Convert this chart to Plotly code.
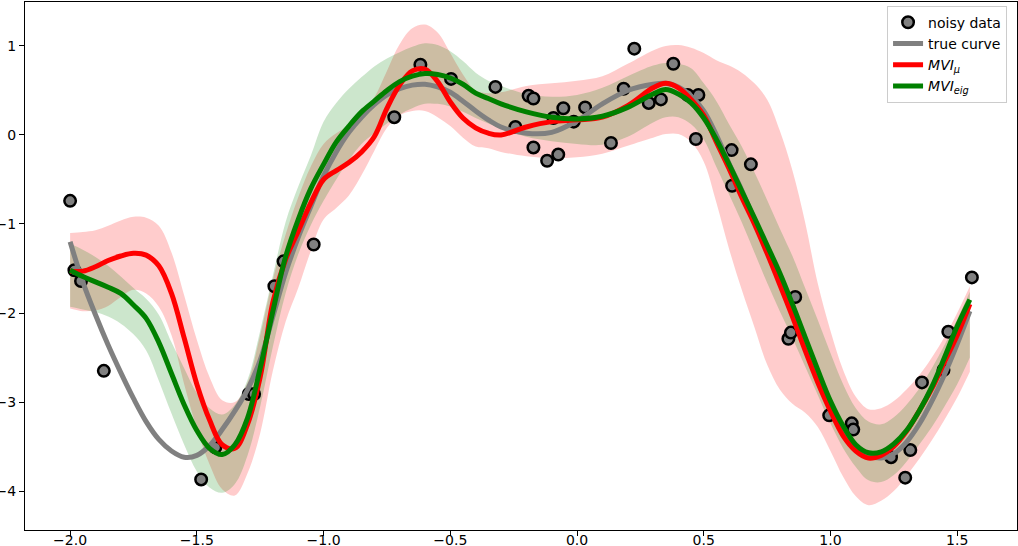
import plotly.graph_objects as go

# noisy observations
pts_x = [-2.0, -1.983, -1.957, -1.867, -1.483, -1.427, -1.295, -1.274, -1.194, -1.158,
         -1.039, -0.721, -0.618, -0.497, -0.322, -0.243, -0.191, -0.172, -0.172, -0.118,
         -0.093, -0.074, -0.054, -0.013, 0.032, 0.134, 0.184, 0.226, 0.283, 0.331,
         0.380, 0.437, 0.469, 0.479, 0.61, 0.612, 0.686, 0.834, 0.844, 0.861,
         0.995, 1.084, 1.090, 1.239, 1.295, 1.315, 1.361, 1.446, 1.465, 1.558]
pts_y = [-0.74, -1.52, -1.64, -2.65, -3.87, -3.51, -2.91, -2.91, -1.70, -1.42,
         -1.23, 0.20, 0.79, 0.63, 0.54, 0.09, 0.44, 0.41, -0.14, -0.29,
         0.19, -0.22, 0.30, 0.15, 0.31, -0.09, 0.52, 0.97, 0.36, 0.40,
         0.80, 0.45, -0.045, 0.45, -0.17, -0.57, -0.33, -2.29, -2.22, -1.82,
         -3.15, -3.24, -3.31, -3.62, -3.85, -3.54, -2.78, -2.64, -2.21, -1.60]

# evaluation grid
xs = [-2.0, -1.95, -1.9, -1.85, -1.8, -1.75, -1.7, -1.65, -1.6, -1.55, -1.5, -1.45,
      -1.4, -1.35, -1.3, -1.25, -1.2, -1.15, -1.1, -1.05, -1.0, -0.95, -0.9, -0.85,
      -0.8, -0.75, -0.7, -0.65, -0.6, -0.55, -0.5, -0.45, -0.4, -0.35, -0.3, -0.2,
      -0.1, 0.0, 0.1, 0.2, 0.3, 0.35, 0.4, 0.45, 0.5, 0.55, 0.6, 0.65,
      0.7, 0.75, 0.8, 0.85, 0.9, 0.95, 1.0, 1.05, 1.1, 1.15, 1.2, 1.25,
      1.3, 1.35, 1.4, 1.45, 1.5, 1.55]

true_y = [-1.20, -1.65, -2.02, -2.36, -2.67, -2.96, -3.22, -3.42, -3.55, -3.62, -3.60, -3.49,
          -3.31, -3.10, -2.86, -2.53, -2.04, -1.55, -1.15, -0.80, -0.46, -0.19, 0.03, 0.20,
          0.34, 0.45, 0.52, 0.56, 0.57, 0.54, 0.48, 0.38, 0.27, 0.17, 0.09, 0.02,
          0.03, 0.16, 0.35, 0.50, 0.57, 0.58, 0.54, 0.44, 0.27, 0.00, -0.32, -0.62,
          -0.95, -1.28, -1.62, -1.97, -2.33, -2.68, -3.02, -3.30, -3.50, -3.60, -3.63, -3.58,
          -3.45, -3.25, -2.99, -2.69, -2.35, -1.98]

mu_y = [-1.53, -1.53, -1.48, -1.41, -1.36, -1.33, -1.35, -1.47, -1.78, -2.28, -2.80, -3.20,
        -3.48, -3.52, -3.25, -2.72, -1.88, -1.40, -1.08, -0.76, -0.50, -0.40, -0.31, -0.19,
        -0.02, 0.30, 0.56, 0.72, 0.74, 0.60, 0.37, 0.19, 0.08, 0.02, 0.00, 0.09,
        0.15, 0.17, 0.20, 0.33, 0.53, 0.58, 0.53, 0.40, 0.22, -0.08, -0.38, -0.70,
        -1.00, -1.33, -1.68, -2.04, -2.42, -2.78, -3.10, -3.38, -3.55, -3.63, -3.60, -3.50,
        -3.33, -3.10, -2.85, -2.55, -2.25, -1.90]
mu_up = [-1.10, -1.09, -1.07, -1.02, -0.96, -0.92, -0.93, -1.02, -1.32, -1.80, -2.30, -2.72,
         -2.98, -3.00, -2.78, -2.25, -1.62, -1.12, -0.70, -0.35, -0.10, 0.02, 0.11, 0.23,
         0.42, 0.72, 1.02, 1.20, 1.24, 1.15, 0.92, 0.68, 0.50, 0.47, 0.48, 0.55,
         0.58, 0.61, 0.66, 0.80, 0.95, 1.00, 1.01, 0.98, 0.92, 0.84, 0.78, 0.70,
         0.58, 0.40, 0.05, -0.40, -0.98, -1.67, -2.20, -2.64, -2.94, -3.08, -3.07, -2.99,
         -2.86, -2.70, -2.50, -2.27, -2.00, -1.70]
mu_lo = [-1.95, -1.98, -1.97, -1.92, -1.82, -1.74, -1.78, -1.93, -2.25, -2.80, -3.30, -3.70,
         -3.98, -4.05, -3.80, -3.35, -2.65, -2.10, -1.72, -1.30, -0.95, -0.82, -0.68, -0.45,
         -0.18, 0.08, 0.22, 0.27, 0.27, 0.20, 0.10, -0.03, -0.13, -0.15, -0.19, -0.24,
         -0.26, -0.25, -0.21, -0.12, -0.03, 0.01, 0.01, -0.08, -0.30, -0.76, -1.28, -1.74,
         -2.16, -2.58, -2.86, -3.02, -3.12, -3.28, -3.55, -3.84, -4.06, -4.16, -4.11, -4.00,
         -3.83, -3.64, -3.43, -3.20, -2.95, -2.66]

eig_y = [-1.52, -1.59, -1.65, -1.71, -1.78, -1.91, -2.06, -2.33, -2.68, -3.03, -3.32, -3.52,
         -3.59, -3.48, -3.18, -2.62, -1.98, -1.37, -0.95, -0.60, -0.33, -0.08, 0.10, 0.26,
         0.38, 0.50, 0.60, 0.66, 0.69, 0.68, 0.64, 0.57, 0.47, 0.41, 0.35, 0.26,
         0.20, 0.18, 0.21, 0.31, 0.46, 0.51, 0.46, 0.36, 0.19, -0.05, -0.33, -0.63,
         -0.93, -1.24, -1.55, -1.90, -2.27, -2.64, -2.99, -3.27, -3.48, -3.57, -3.56, -3.47,
         -3.32, -3.10, -2.83, -2.50, -2.15, -1.85]
eig_up = [-1.22, -1.29, -1.37, -1.47, -1.59, -1.72, -1.84, -2.02, -2.33, -2.62, -2.90, -3.07,
          -3.14, -3.03, -2.75, -2.20, -1.58, -0.98, -0.58, -0.23, 0.15, 0.36, 0.52, 0.65,
          0.77, 0.86, 0.93, 0.99, 1.03, 1.01, 0.94, 0.83, 0.70, 0.61, 0.55, 0.46,
          0.43, 0.45, 0.53, 0.66, 0.78, 0.81, 0.80, 0.75, 0.58, 0.38, 0.12, -0.13,
          -0.42, -0.73, -1.05, -1.36, -1.72, -2.08, -2.45, -2.80, -3.07, -3.22, -3.25, -3.17,
          -3.03, -2.85, -2.62, -2.36, -2.07, -1.76]
eig_lo = [-1.93, -1.96, -1.99, -2.04, -2.12, -2.24, -2.42, -2.76, -3.13, -3.48, -3.78, -3.96,
          -4.02, -3.92, -3.60, -3.05, -2.38, -1.78, -1.34, -1.01, -0.74, -0.50, -0.28, -0.10,
          0.02, 0.13, 0.23, 0.30, 0.35, 0.35, 0.32, 0.26, 0.19, 0.13, 0.08, -0.02,
          -0.07, -0.10, -0.11, -0.02, 0.14, 0.20, 0.20, 0.12, -0.05, -0.36, -0.67, -0.98,
          -1.32, -1.66, -1.98, -2.28, -2.60, -2.92, -3.24, -3.52, -3.73, -3.88, -3.90, -3.82,
          -3.67, -3.48, -3.28, -3.05, -2.80, -2.50]

x_ticks = [-2.0, -1.5, -1.0, -0.5, 0.0, 0.5, 1.0, 1.5]
y_ticks = [1, 0, -1, -2, -3, -4]

fig = go.Figure()


def add_band(lo, up, color):
    fig.add_trace(go.Scatter(x=xs, y=lo, mode='lines', line=dict(width=0, shape='spline'),
                             showlegend=False, hoverinfo='skip'))
    fig.add_trace(go.Scatter(x=xs, y=up, mode='lines', line=dict(width=0, shape='spline'),
                             fill='tonexty', fillcolor=color, showlegend=False, hoverinfo='skip'))


add_band(mu_lo, mu_up, 'rgba(255,0,0,0.2)')
add_band(eig_lo, eig_up, 'rgba(0,128,0,0.2)')

fig.add_trace(go.Scatter(x=pts_x, y=pts_y, mode='markers', name='noisy data',
                         marker=dict(size=11.5, color='gray', line=dict(color='black', width=2.5))))
fig.add_trace(go.Scatter(x=xs, y=true_y, mode='lines', name='true curve',
                         line=dict(color='gray', width=5, shape='spline')))
fig.add_trace(go.Scatter(x=xs, y=mu_y, mode='lines', name='<i>MVI</i><sub><i>μ</i></sub>',
                         line=dict(color='red', width=5, shape='spline')))
fig.add_trace(go.Scatter(x=xs, y=eig_y, mode='lines', name='<i>MVI</i><sub><i>eig</i></sub>',
                         line=dict(color='green', width=5, shape='spline')))

axis_style = dict(showline=True, mirror=True, linecolor='black', linewidth=1,
                  showgrid=False, zeroline=False, ticks='outside', ticklen=5,
                  tickwidth=1, tickcolor='black', automargin=False,
                  tickfont=dict(family='DejaVu Sans', size=14, color='black'))

fig.update_xaxes(range=[-2.178, 1.736], tickvals=x_ticks, tickformat='.1f',
                 ticklabelstandoff=-8, **axis_style)
fig.update_yaxes(range=[-4.438, 1.494], tickvals=y_ticks, **axis_style)

fig.update_layout(
    width=1018, height=546,
    margin=dict(l=25, r=1, t=2, b=16),
    paper_bgcolor='white', plot_bgcolor='white',
    font=dict(family='DejaVu Sans', size=14, color='black'),
    legend=dict(x=0.869, y=0.993, xanchor='left', yanchor='top', traceorder='normal',
                bgcolor='rgba(255,255,255,0.8)', bordercolor='#cccccc', borderwidth=1,
                itemwidth=30, font=dict(family='DejaVu Sans', size=14)),
)

# the page's default body margin would push the figure 8px down and right
fig.write_html("out.html", config={'displayModeBar': False},
               post_script="document.body.style.margin='0';document.body.style.overflow='hidden';")
